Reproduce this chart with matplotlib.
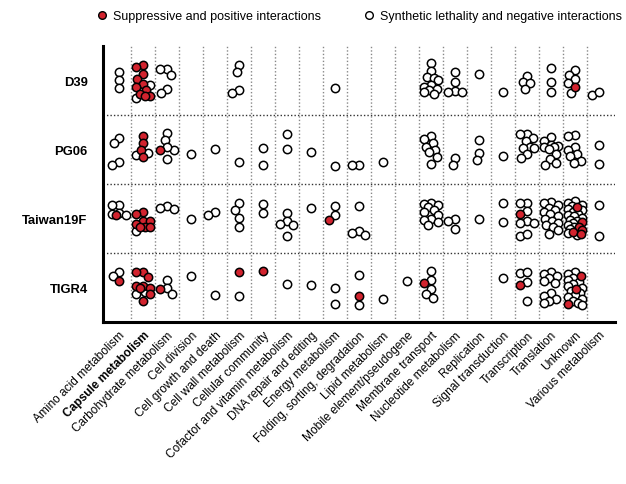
import numpy as np
import matplotlib.pyplot as plt
from matplotlib.lines import Line2D

plt.rcParams['font.family'] = ['Liberation Sans', 'DejaVu Sans']

categories = ['Amino acid metabolism', 'Capsule metabolism', 'Carbohydrate metabolism',
              'Cell division', 'Cell growth and death', 'Cell wall metabolism',
              'Cellular community', 'Cofactor and vitamin metabolism', 'DNA repair and editing',
              'Energy metabolism', 'Folding, sorting, degradation', 'Lipid metabolism',
              'Mobile element/pseudogene', 'Membrane transport', 'Nucleotide metabolism',
              'Replication', 'Signal transduction', 'Transcription', 'Translation',
              'Unknown', 'Various metabolism']
strains = ['D39', 'PG06', 'Taiwan19F', 'TIGR4']

# interaction scores inside each strain band (0 = top, 1 = bottom), keyed by category index
d39_neg = {0: [0.37, 0.49, 0.61], 1: [0.56, 0.75], 2: [0.33, 0.33, 0.42, 0.62, 0.68],
           5: [0.27, 0.37, 0.64, 0.68], 9: [0.61],
           13: [0.25, 0.36, 0.45, 0.46, 0.49, 0.56, 0.59, 0.62, 0.64, 0.67, 0.70],
           14: [0.37, 0.52, 0.65, 0.67, 0.66], 15: [0.41], 16: [0.67],
           17: [0.43, 0.52, 0.54, 0.62], 18: [0.32, 0.52, 0.67],
           19: [0.35, 0.42, 0.48, 0.53, 0.68], 20: [0.71, 0.67]}
d39_pos = {1: [0.28, 0.30, 0.41, 0.48, 0.55, 0.59, 0.64, 0.70, 0.72, 0.72], 19: [0.59]}

pg06_neg = {0: [0.33, 0.41, 0.68, 0.72], 1: [0.55, 0.58], 2: [0.26, 0.36, 0.51, 0.47, 0.64],
            3: [0.57], 4: [0.49], 5: [0.68], 6: [0.48, 0.72], 7: [0.28, 0.49], 8: [0.54],
            9: [0.74], 10: [0.73, 0.73], 11: [0.68],
            13: [0.31, 0.35, 0.41, 0.46, 0.51, 0.53, 0.61, 0.71],
            14: [0.62, 0.72], 15: [0.36, 0.55, 0.65], 16: [0.59],
            17: [0.27, 0.27, 0.34, 0.38, 0.47, 0.48, 0.48, 0.56, 0.63],
            18: [0.32, 0.37, 0.43, 0.45, 0.47, 0.47, 0.49, 0.57, 0.64, 0.70, 0.72],
            19: [0.29, 0.31, 0.47, 0.51, 0.57, 0.60, 0.66, 0.69], 20: [0.44, 0.71]}
pg06_pos = {1: [0.30, 0.41, 0.51, 0.61], 2: [0.50]}

t19f_neg = {0: [0.30, 0.31, 0.42, 0.43, 0.45], 1: [0.68], 2: [0.32, 0.35, 0.36], 3: [0.50],
            4: [0.40, 0.45], 5: [0.28, 0.37, 0.49, 0.63], 6: [0.29, 0.42],
            7: [0.42, 0.54, 0.58, 0.60, 0.75], 8: [0.35], 9: [0.32, 0.45],
            10: [0.32, 0.68, 0.71, 0.74],
            13: [0.28, 0.29, 0.30, 0.33, 0.37, 0.41, 0.45, 0.51, 0.52, 0.55, 0.59],
            14: [0.51, 0.53, 0.65], 15: [0.51], 16: [0.28, 0.55],
            17: [0.28, 0.28, 0.39, 0.54, 0.57, 0.57, 0.75, 0.72],
            18: [0.26, 0.28, 0.31, 0.35, 0.38, 0.41, 0.44, 0.47, 0.50, 0.53, 0.56, 0.60,
                 0.63, 0.67, 0.72],
            19: [0.25, 0.27, 0.30, 0.32, 0.36, 0.38, 0.40, 0.43, 0.45, 0.47, 0.49, 0.52,
                 0.54, 0.57, 0.60, 0.63, 0.65, 0.68, 0.71, 0.74],
            20: [0.31, 0.76]}
t19f_pos = {0: [0.45], 1: [0.40, 0.43, 0.53, 0.53, 0.58, 0.63, 0.63, 0.63], 9: [0.52],
            17: [0.43], 19: [0.34, 0.55, 0.62, 0.66, 0.70, 0.72]}

tigr4_neg = {0: [0.27, 0.33], 1: [0.57, 0.59], 2: [0.39, 0.51, 0.59], 3: [0.34], 4: [0.61],
             5: [0.63], 7: [0.45], 8: [0.46], 9: [0.50, 0.74], 10: [0.32, 0.75], 11: [0.66],
             12: [0.40], 13: [0.26, 0.39, 0.52, 0.60, 0.65], 16: [0.36],
             17: [0.29, 0.28, 0.42, 0.70],
             18: [0.27, 0.30, 0.33, 0.36, 0.40, 0.43, 0.58, 0.62, 0.66, 0.70, 0.73],
             19: [0.27, 0.30, 0.36, 0.39, 0.42, 0.45, 0.48, 0.50, 0.55, 0.58, 0.61, 0.64,
                  0.67, 0.70, 0.72, 0.76]}
tigr4_pos = {0: [0.40], 1: [0.27, 0.28, 0.35, 0.48, 0.48, 0.51, 0.51, 0.59, 0.70],
             2: [0.52], 5: [0.28], 6: [0.26], 10: [0.62], 13: [0.44], 17: [0.46],
             19: [0.33, 0.52, 0.74]}

neg_sets = [d39_neg, pg06_neg, t19f_neg, tigr4_neg]
pos_sets = [d39_pos, pg06_pos, t19f_pos, tigr4_pos]

RED = '#d2232e'
W, H = 626, 485
fig = plt.figure(figsize=(W / 100, H / 100), dpi=100)
ax = fig.add_axes([103 / W, 162 / H, 512 / W, 276 / H])
ax.set_xlim(-0.67, len(categories) - 0.33)
ax.set_ylim(len(strains), 0)

px_x = 512 / (len(categories) + 0.34)  # pixels per category
px_y = 276 / len(strains)              # pixels per strain band


def swarm(vals, dmin=7.0, limit=7.0):
    # greedy beeswarm in pixel space; returns horizontal offsets in pixels
    order = np.argsort(vals)
    placed = []
    offs = np.zeros(len(vals))
    cands = sorted(np.arange(-limit, limit + 0.5, 1.0), key=lambda c: (abs(c), c))
    for i in order:
        yp = vals[i] * px_y
        best, best_d = 0.0, -1
        for c in cands:
            d = min([np.hypot(c - ox, yp - oy) for ox, oy in placed], default=99)
            if d >= dmin:
                best = c
                break
            if d > best_d:
                best, best_d = c, d
        offs[i] = best
        placed.append((best, yp))
    return offs


for r in range(len(strains)):
    for c in range(len(categories)):
        nv = neg_sets[r].get(c, [])
        pv = pos_sets[r].get(c, [])
        vals = np.array(nv + pv, dtype=float)
        if len(vals) == 0:
            continue
        xs = c + swarm(vals) / px_x
        ys = r + vals
        n = len(nv)
        ax.scatter(xs[:n], ys[:n], s=36, facecolor='white', edgecolor='black',
                   linewidth=1.1, zorder=3)
        ax.scatter(xs[n:], ys[n:], s=36, facecolor=RED, edgecolor='black',
                   linewidth=1.1, zorder=4)

for k in range(len(categories) - 1):
    ax.axvline(k + 0.5, color='#888888', linestyle=(0, (1, 1.5)), linewidth=1.0, zorder=1)
for k in range(1, len(strains)):
    ax.axhline(k, color='#333333', linestyle=(0, (1, 1.5)), linewidth=1.0, zorder=1)

ax.set_xticks(range(len(categories)))
ax.set_xticklabels(categories, rotation=45, ha='right', rotation_mode='anchor', fontsize=8.6)
ax.get_xticklabels()[1].set_fontweight('bold')
ax.set_yticks(np.arange(len(strains)) + 0.5)
ax.set_yticklabels(strains, fontsize=9.4, fontweight='bold')
ax.tick_params(length=0)
ax.tick_params(axis='y', pad=11)
ax.tick_params(axis='x', pad=5)

for s in ['top', 'right']:
    ax.spines[s].set_visible(False)
for s in ['left', 'bottom']:
    ax.spines[s].set_linewidth(2.2)

handles = [Line2D([], [], marker='o', linestyle='none', markersize=5.5,
                  markerfacecolor=RED, markeredgecolor='black', markeredgewidth=1.0),
           Line2D([], [], marker='o', linestyle='none', markersize=5.5,
                  markerfacecolor='white', markeredgecolor='black', markeredgewidth=1.0)]
fig.legend(handles, ['Suppressive and positive interactions',
                     'Synthetic lethality and negative interactions'],
           loc='upper center', bbox_to_anchor=(0.572, 1.0), ncol=2, frameon=False,
           fontsize=9, handlelength=1.2, handletextpad=0.3, columnspacing=3.2)

fig.savefig('out.png', dpi=100)
